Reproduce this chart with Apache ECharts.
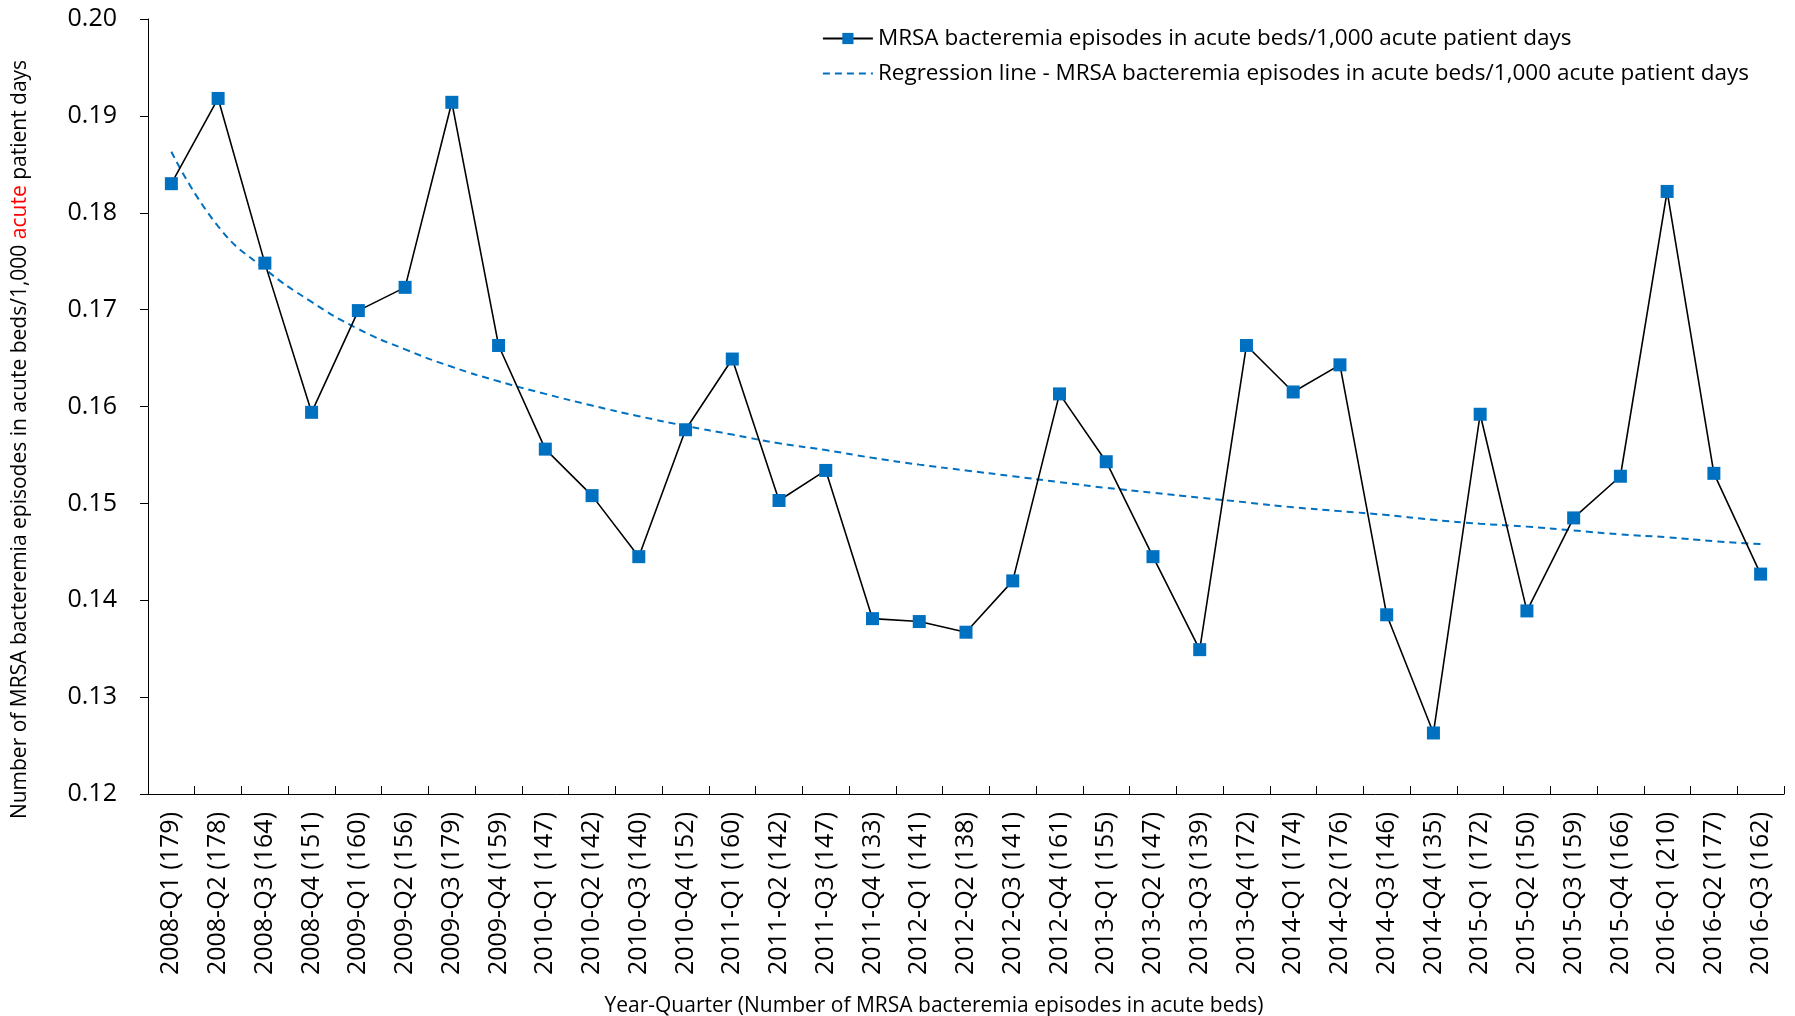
<!DOCTYPE html>
<html>
<head>
<meta charset="utf-8">
<script src="https://cdn.jsdelivr.net/npm/echarts@6/dist/echarts.min.js"></script>
<style>html,body{margin:0;padding:0;background:#fff}#c{width:1795px;height:1016px}</style>
</head>
<body>
<div id="c"></div>
<script>
const categories = [
  '2008-Q1 (179)','2008-Q2 (178)','2008-Q3 (164)','2008-Q4 (151)',
  '2009-Q1 (160)','2009-Q2 (156)','2009-Q3 (179)','2009-Q4 (159)',
  '2010-Q1 (147)','2010-Q2 (142)','2010-Q3 (140)','2010-Q4 (152)',
  '2011-Q1 (160)','2011-Q2 (142)','2011-Q3 (147)','2011-Q4 (133)',
  '2012-Q1 (141)','2012-Q2 (138)','2012-Q3 (141)','2012-Q4 (161)',
  '2013-Q1 (155)','2013-Q2 (147)','2013-Q3 (139)','2013-Q4 (172)',
  '2014-Q1 (174)','2014-Q2 (176)','2014-Q3 (146)','2014-Q4 (135)',
  '2015-Q1 (172)','2015-Q2 (150)','2015-Q3 (159)','2015-Q4 (166)',
  '2016-Q1 (210)','2016-Q2 (177)','2016-Q3 (162)'
];
const rateValues = [
  0.1830, 0.1918, 0.1748, 0.1594,
  0.1699, 0.1723, 0.1914, 0.1663,
  0.1556, 0.1508, 0.1445, 0.1576,
  0.1649, 0.1503, 0.1534, 0.1381,
  0.1378, 0.1367, 0.1420, 0.1613,
  0.1543, 0.1445, 0.1349, 0.1663,
  0.1615, 0.1643, 0.1385, 0.1263,
  0.1592, 0.1389, 0.1485, 0.1528,
  0.1822, 0.1531, 0.1427
];
const trendValues = [
  0.1863, 0.1786, 0.1742, 0.1708,
  0.1680, 0.1659, 0.1641, 0.1626,
  0.1613, 0.1601, 0.1590, 0.1580,
  0.1571, 0.1562, 0.1555, 0.1547,
  0.1540, 0.1534, 0.1528, 0.1522,
  0.1516, 0.1511, 0.1506, 0.1501,
  0.1496, 0.1492, 0.1488, 0.1483,
  0.1479, 0.1476, 0.1472, 0.1468,
  0.1465, 0.1461, 0.1458
];
const yTicks = { min: 0.12, max: 0.20, step: 0.01 };
const seriesNames = [
  'MRSA bacteremia episodes in acute beds/1,000 acute patient days',
  'Regression line - MRSA bacteremia episodes in acute beds/1,000 acute patient days'
];
const xTitle = 'Year-Quarter (Number of MRSA bacteremia episodes in acute beds)';
const yTitleParts = ['Number of MRSA bacteremia episodes in acute beds/1,000 ', 'acute', ' patient days'];

const FONT = "'Open Sans', 'Noto Sans', sans-serif";
const chart = echarts.init(document.getElementById('c'), null, { renderer: 'canvas' });
chart.setOption({
  backgroundColor: '#fff',
  animation: false,
  grid: { left: 148, right: 11, top: 19, bottom: 222, outerBoundsMode: 'none', containLabel: false },
  legend: {
    orient: 'vertical',
    right: 41,
    top: 22,
    itemWidth: 50,
    itemHeight: 14,
    itemGap: 12,
    textStyle: { fontFamily: FONT, fontSize: 22.5, color: '#000' },
    data: [
      { name: seriesNames[0] },
      { name: seriesNames[1], itemStyle: { opacity: 0 } }
    ]
  },
  xAxis: {
    type: 'category',
    data: categories,
    boundaryGap: true,
    axisLine: { lineStyle: { color: '#000', width: 1 } },
    axisTick: { show: true, inside: true, length: 8, interval: 0, lineStyle: { color: '#000' } },
    axisLabel: { interval: 0, rotate: 90, margin: 18, fontFamily: FONT, fontSize: 25, color: '#000' },
    name: xTitle,
    nameLocation: 'middle',
    nameGap: 202,
    nameTextStyle: { fontFamily: FONT, fontSize: 21, color: '#000', padding: [0, 64, 0, 0] }
  },
  yAxis: {
    type: 'value',
    min: yTicks.min,
    max: yTicks.max,
    interval: yTicks.step,
    splitLine: { show: false },
    axisLine: { show: true, lineStyle: { color: '#000', width: 1 } },
    axisTick: { show: true, length: 8, lineStyle: { color: '#000' } },
    axisLabel: { margin: 31, fontFamily: FONT, fontSize: 25, color: '#000', formatter: v => v.toFixed(2) },
    name: '{b|' + yTitleParts[0] + '}{r|' + yTitleParts[1] + '}{b|' + yTitleParts[2] + '}',
    nameLocation: 'middle',
    nameRotate: 90,
    nameGap: 117,
    nameTextStyle: {
      fontFamily: FONT, fontSize: 21, color: '#000',
      padding: [0, 66, 0, 0],
      rich: {
        b: { fontFamily: FONT, fontSize: 21, color: '#000' },
        r: { fontFamily: FONT, fontSize: 21, color: '#ff0000' }
      }
    }
  },
  series: [
    {
      name: seriesNames[0],
      type: 'line',
      data: rateValues,
      symbol: 'rect',
      symbolSize: 13,
      showAllSymbol: true,
      lineStyle: { color: '#000', width: 1.6 },
      itemStyle: { color: '#0070C0' },
      z: 3
    },
    {
      name: seriesNames[1],
      type: 'line',
      data: trendValues,
      symbol: 'none',
      smooth: true,
      lineStyle: { color: '#0070C0', width: 2, type: [7, 5] },
      itemStyle: { color: '#0070C0' },
      z: 2
    }
  ]
});
</script>
</body>
</html>
